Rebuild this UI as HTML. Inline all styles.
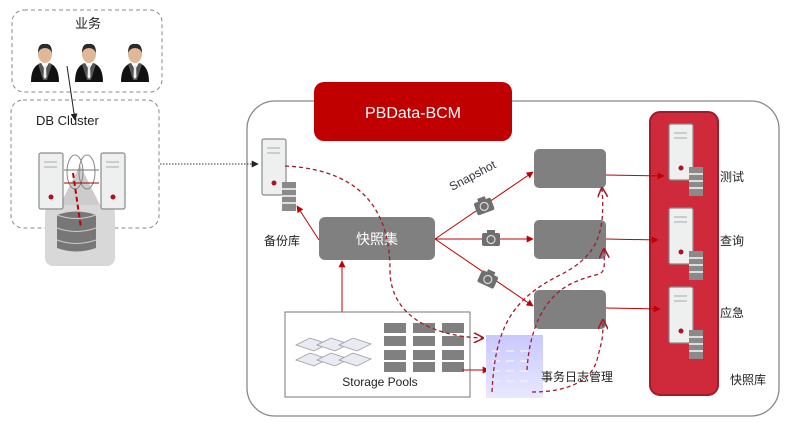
<!DOCTYPE html>
<html><head><meta charset="utf-8"><style>
html,body{margin:0;padding:0;background:#fff;}
svg{display:block;font-family:"Liberation Sans","Noto Sans CJK SC",sans-serif;}
</style></head><body>
<svg width="789" height="423" viewBox="0 0 789 423" xmlns="http://www.w3.org/2000/svg">
<defs>
<marker id="ar" viewBox="0 0 10 10" refX="9" refY="5" markerWidth="7" markerHeight="7" orient="auto"><path d="M0,0L10,5L0,10z" fill="#c00000"/></marker>
<marker id="ab" viewBox="0 0 10 10" refX="9" refY="5" markerWidth="7" markerHeight="7" orient="auto"><path d="M0,0L10,5L0,10z" fill="#222"/></marker>
<marker id="ao" viewBox="0 0 10 10" refX="9" refY="5" markerWidth="8" markerHeight="8" orient="auto"><path d="M0,0L10,5L0,10" fill="none" stroke="#a01c2a" stroke-width="1.5"/></marker>
<g id="srv">
<rect x="0" y="0" width="24" height="56" rx="2" fill="#eef0f0" stroke="#8a8a8a" stroke-width="1.2"/>
<rect x="5" y="8" width="13" height="2" fill="#ccc"/><rect x="5" y="13" width="13" height="2" fill="#ccc"/>
<circle cx="12" cy="44" r="2.5" fill="#b01020"/>
</g>
<g id="srv2">
<use href="#srv"/>
<rect x="20" y="43" width="14" height="29" fill="#8a8a8a"/>
<rect x="20" y="49" width="14" height="2" fill="#ddd"/><rect x="20" y="56" width="14" height="2" fill="#ddd"/><rect x="20" y="63" width="14" height="2" fill="#ddd"/>
</g>
<g id="person">
<path d="M-14,16 Q-14,0 -4,-3 L0,4 L4,-3 Q14,0 14,16z" fill="#111"/>
<path d="M-4,-3 L0,4 L4,-3 L7,-2 L2,14 L-2,14 L-7,-2z" fill="#555"/>
<path d="M-1,-1 L1,-1 L1.5,11 L0,13 L-1.5,11z" fill="#eee"/>
<ellipse cx="0" cy="-12" rx="7" ry="9" fill="#e0b898"/>
<path d="M-7,-13 Q-7,-23 0,-22 Q7,-23 7,-13 Q5,-18 0,-18 Q-5,-18 -7,-13z" fill="#2a2a2a"/>
</g>
<g id="cam">
<rect x="-9" y="-6" width="18" height="13" rx="2" fill="#6f6f6f"/>
<rect x="-4" y="-9" width="8" height="4" fill="#6f6f6f"/>
<circle cx="0" cy="0.5" r="4" fill="none" stroke="#ddd" stroke-width="1.2"/>
</g>
<linearGradient id="gp" x1="0" y1="0" x2="0" y2="1"><stop offset="0" stop-color="#c8c8ff"/><stop offset="1" stop-color="#e8e8ff"/></linearGradient>
</defs>

<!-- 业务 -->
<rect x="12" y="10" width="150" height="82" rx="12" fill="none" stroke="#888" stroke-dasharray="4,3"/>
<text x="88" y="28" font-size="13" text-anchor="middle" fill="#222">业务</text>
<use href="#person" x="45" y="66"/><use href="#person" x="89" y="66"/><use href="#person" x="135" y="66"/>

<!-- DB Cluster -->
<rect x="11" y="100" width="148" height="128" rx="12" fill="none" stroke="#888" stroke-dasharray="4,3"/>
<rect x="45" y="205" width="70" height="61" rx="8" fill="#d8d8d8"/>
<path d="M80,165 L100,205 L60,205z" fill="#ccc"/>
<use href="#srv" x="39" y="153"/><use href="#srv" x="101" y="153"/>
<ellipse cx="75" cy="172" rx="8" ry="17" fill="none" stroke="#888"/><ellipse cx="87" cy="172" rx="8" ry="17" fill="none" stroke="#888"/>
<line x1="64" y1="170" x2="99" y2="170" stroke="#777"/><line x1="64" y1="183" x2="99" y2="183" stroke="#a00"/>
<path d="M57,215 Q76,208 96,215 L96,248 Q76,255 57,248z" fill="#777"/>
<path d="M57,215 Q76,222 96,215" fill="none" stroke="#ccc"/>
<path d="M57,228 Q76,235 96,228" fill="none" stroke="#ccc"/>
<path d="M57,240 Q76,247 96,240" fill="none" stroke="#ccc"/>
<line x1="73" y1="173" x2="81" y2="228" stroke="#c00000" stroke-width="2" stroke-dasharray="5,3"/>
<text x="36" y="125" font-size="13" fill="#222">DB Cluster</text>
<line x1="67" y1="66" x2="75" y2="120" stroke="#222" marker-end="url(#ab)"/>

<!-- main box -->
<rect x="247" y="101" width="532" height="315" rx="28" fill="#fff" stroke="#888" stroke-width="1.3"/>
<line x1="160" y1="164" x2="258" y2="164" stroke="#333" stroke-dasharray="1.5,1.5" marker-end="url(#ab)"/>
<rect x="314" y="82" width="198" height="59" rx="10" fill="#c00000"/>
<text x="413" y="118" font-size="16" fill="#fff" text-anchor="middle">PBData-BCM</text>

<!-- backup -->
<use href="#srv2" x="262" y="139"/>
<text x="282" y="245" font-size="12" text-anchor="middle" fill="#222">备份库</text>

<!-- 快照集 -->
<rect x="319" y="217" width="116" height="43" rx="6" fill="#808080"/>
<text x="377" y="244" font-size="14" text-anchor="middle" fill="#fff">快照集</text>
<line x1="319" y1="240" x2="297" y2="206" stroke="#c00000" marker-end="url(#ar)"/>
<line x1="342" y1="312" x2="342" y2="261" stroke="#c00000" marker-end="url(#ar)"/>

<!-- snapshot arrows -->
<line x1="435" y1="239" x2="533" y2="172" stroke="#c00000" marker-end="url(#ar)"/>
<line x1="435" y1="239" x2="533" y2="239" stroke="#c00000" marker-end="url(#ar)"/>
<line x1="435" y1="239" x2="533" y2="306" stroke="#c00000" marker-end="url(#ar)"/>
<use href="#cam" transform="translate(484,206) rotate(-20)"/>
<use href="#cam" x="491" y="239"/>
<use href="#cam" transform="translate(488,279) rotate(25)"/>
<text x="0" y="0" font-size="12" fill="#334" transform="translate(452,191) rotate(-28)">Snapshot</text>

<!-- right gray boxes -->
<rect x="534" y="149" width="72" height="39" rx="5" fill="#808080"/>
<rect x="534" y="220" width="72" height="39" rx="5" fill="#808080"/>
<rect x="534" y="290" width="72" height="39" rx="5" fill="#808080"/>

<!-- red panel -->
<rect x="650" y="112" width="68" height="283" rx="10" fill="#cf2a3c" stroke="#a01c2a" stroke-width="2"/>
<use href="#srv2" x="669" y="124"/><use href="#srv2" x="669" y="208"/><use href="#srv2" x="669" y="287"/>
<line x1="606" y1="175" x2="664" y2="176" stroke="#c00000" marker-end="url(#ar)"/>
<line x1="606" y1="239" x2="658" y2="240" stroke="#c00000" marker-end="url(#ar)"/>
<line x1="606" y1="308" x2="660" y2="309" stroke="#c00000" marker-end="url(#ar)"/>
<text x="720" y="181" font-size="12" fill="#222">测试</text>
<text x="720" y="245" font-size="12" fill="#222">查询</text>
<text x="720" y="317" font-size="12" fill="#222">应急</text>
<text x="730" y="384" font-size="12" fill="#222">快照库</text>

<!-- storage pools -->
<rect x="285" y="312" width="185" height="85" fill="#fff" stroke="#777"/>
<g fill="#e8ecf2" stroke="#999" stroke-width="0.7">
<path d="M296,345 l14,-7 l18,6 l-14,7z"/><path d="M317,345 l14,-7 l18,6 l-14,7z"/><path d="M339,345 l14,-7 l18,6 l-14,7z"/>
<path d="M296,360 l14,-7 l18,6 l-14,7z"/><path d="M317,360 l14,-7 l18,6 l-14,7z"/><path d="M339,360 l14,-7 l18,6 l-14,7z"/>
</g>
<g fill="#808080">
<rect x="384" y="323" width="22" height="10"/><rect x="384" y="336" width="22" height="10"/><rect x="384" y="350" width="22" height="10"/><rect x="384" y="362" width="22" height="10"/>
<rect x="413" y="323" width="22" height="10"/><rect x="413" y="336" width="22" height="10"/><rect x="413" y="350" width="22" height="10"/><rect x="413" y="362" width="22" height="10"/>
<rect x="442" y="323" width="22" height="10"/><rect x="442" y="336" width="22" height="10"/><rect x="442" y="350" width="22" height="10"/><rect x="442" y="362" width="22" height="10"/>
</g>
<text x="380" y="386" font-size="12" text-anchor="middle" fill="#222">Storage Pools</text>
<line x1="462" y1="370" x2="489" y2="370" stroke="#c00000" marker-end="url(#ar)"/>

<!-- log block -->
<rect x="486" y="335" width="57" height="63" fill="url(#gp)"/>
<g fill="#eef" opacity="0.8">
<rect x="492" y="350" width="8" height="2"/><rect x="506" y="350" width="8" height="2"/><rect x="520" y="350" width="8" height="2"/>
<rect x="492" y="360" width="8" height="2"/><rect x="506" y="360" width="8" height="2"/><rect x="520" y="360" width="8" height="2"/>
<rect x="492" y="370" width="8" height="2"/><rect x="506" y="370" width="8" height="2"/><rect x="520" y="370" width="8" height="2"/>
<rect x="492" y="380" width="8" height="2"/><rect x="506" y="380" width="8" height="2"/><rect x="520" y="380" width="8" height="2"/>
</g>
<text x="541" y="381" font-size="12" fill="#222">事务日志管理</text>

<!-- dashed curves -->
<g fill="none" stroke="#a01c2a" stroke-width="1.3" stroke-dasharray="4,3">
<path d="M285,166 C370,170 390,220 390,270 C390,320 440,337 483,338" marker-end="url(#ao)"/>
<path d="M492,392 C495,330 510,300 560,275 C600,255 605,230 602,188" marker-end="url(#ao)"/>
<path d="M527,370 C530,320 550,290 580,280 C605,270 605,280 604,249" marker-end="url(#ao)"/>
<path d="M532,392 C560,392 590,385 597,360 C602,340 603,340 603,320" marker-end="url(#ao)"/>
</g>
</svg>
</body></html>
